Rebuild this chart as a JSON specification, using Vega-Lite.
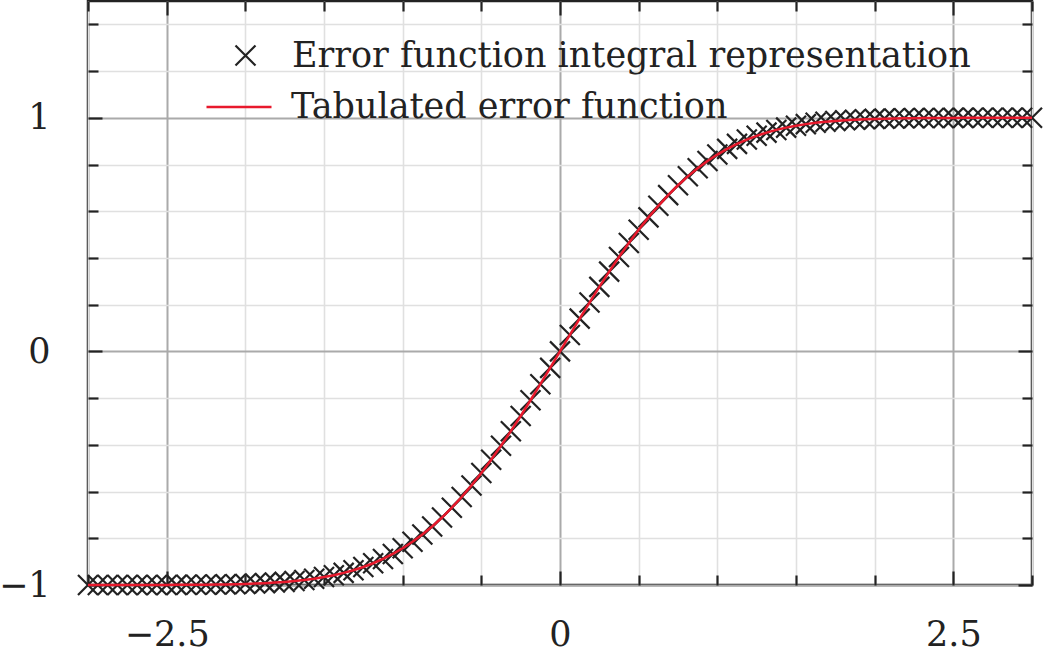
{
  "$schema": "https://vega.github.io/schema/vega-lite/v6.json",
  "width": 944,
  "height": 584,
  "autosize": {"type": "none"},
  "padding": {"left": 88, "top": 1, "right": 11, "bottom": 70},
  "background": "white",
  "config": {"view": {"stroke": "#222222", "strokeWidth": 2.5}, "font": "DejaVu Serif"},
  "data": {"values": [
    {"x": -3, "y": -0.99998}, {"x": -2.9375, "y": -0.99997}, {"x": -2.875, "y": -0.99995}, {"x": -2.8125, "y": -0.99993},
    {"x": -2.75, "y": -0.9999}, {"x": -2.6875, "y": -0.99986}, {"x": -2.625, "y": -0.9998}, {"x": -2.5625, "y": -0.99971},
    {"x": -2.5, "y": -0.99959}, {"x": -2.4375, "y": -0.99943}, {"x": -2.375, "y": -0.99922}, {"x": -2.3125, "y": -0.99893},
    {"x": -2.25, "y": -0.99854}, {"x": -2.1875, "y": -0.99802}, {"x": -2.125, "y": -0.99735}, {"x": -2.0625, "y": -0.99646},
    {"x": -2, "y": -0.99532}, {"x": -1.9375, "y": -0.99386}, {"x": -1.875, "y": -0.99199}, {"x": -1.8125, "y": -0.98963},
    {"x": -1.75, "y": -0.98667}, {"x": -1.6875, "y": -0.98299}, {"x": -1.625, "y": -0.97844}, {"x": -1.5625, "y": -0.97288},
    {"x": -1.5, "y": -0.96611}, {"x": -1.4375, "y": -0.95795}, {"x": -1.375, "y": -0.94817}, {"x": -1.3125, "y": -0.93657},
    {"x": -1.25, "y": -0.9229}, {"x": -1.1875, "y": -0.90692}, {"x": -1.125, "y": -0.88839}, {"x": -1.0625, "y": -0.86706},
    {"x": -1, "y": -0.8427}, {"x": -0.9375, "y": -0.81511}, {"x": -0.875, "y": -0.78408}, {"x": -0.8125, "y": -0.74947},
    {"x": -0.75, "y": -0.71116}, {"x": -0.6875, "y": -0.66909}, {"x": -0.625, "y": -0.62324}, {"x": -0.5625, "y": -0.57367},
    {"x": -0.5, "y": -0.5205}, {"x": -0.4375, "y": -0.4639}, {"x": -0.375, "y": -0.40412}, {"x": -0.3125, "y": -0.34147},
    {"x": -0.25, "y": -0.27633}, {"x": -0.1875, "y": -0.20912}, {"x": -0.125, "y": -0.14032}, {"x": -0.0625, "y": -0.07043},
    {"x": 0, "y": 0},
    {"x": 0.0625, "y": 0.07043}, {"x": 0.125, "y": 0.14032}, {"x": 0.1875, "y": 0.20912}, {"x": 0.25, "y": 0.27633},
    {"x": 0.3125, "y": 0.34147}, {"x": 0.375, "y": 0.40412}, {"x": 0.4375, "y": 0.4639}, {"x": 0.5, "y": 0.5205},
    {"x": 0.5625, "y": 0.57367}, {"x": 0.625, "y": 0.62324}, {"x": 0.6875, "y": 0.66909}, {"x": 0.75, "y": 0.71116},
    {"x": 0.8125, "y": 0.74947}, {"x": 0.875, "y": 0.78408}, {"x": 0.9375, "y": 0.81511}, {"x": 1, "y": 0.8427},
    {"x": 1.0625, "y": 0.86706}, {"x": 1.125, "y": 0.88839}, {"x": 1.1875, "y": 0.90692}, {"x": 1.25, "y": 0.9229},
    {"x": 1.3125, "y": 0.93657}, {"x": 1.375, "y": 0.94817}, {"x": 1.4375, "y": 0.95795}, {"x": 1.5, "y": 0.96611},
    {"x": 1.5625, "y": 0.97288}, {"x": 1.625, "y": 0.97844}, {"x": 1.6875, "y": 0.98299}, {"x": 1.75, "y": 0.98667},
    {"x": 1.8125, "y": 0.98963}, {"x": 1.875, "y": 0.99199}, {"x": 1.9375, "y": 0.99386}, {"x": 2, "y": 0.99532},
    {"x": 2.0625, "y": 0.99646}, {"x": 2.125, "y": 0.99735}, {"x": 2.1875, "y": 0.99802}, {"x": 2.25, "y": 0.99854},
    {"x": 2.3125, "y": 0.99893}, {"x": 2.375, "y": 0.99922}, {"x": 2.4375, "y": 0.99943}, {"x": 2.5, "y": 0.99959},
    {"x": 2.5625, "y": 0.99971}, {"x": 2.625, "y": 0.9998}, {"x": 2.6875, "y": 0.99986}, {"x": 2.75, "y": 0.9999},
    {"x": 2.8125, "y": 0.99993}, {"x": 2.875, "y": 0.99995}, {"x": 2.9375, "y": 0.99997}, {"x": 3, "y": 0.99998}
  ]},
  "layer": [
    {
      "mark": {"type": "point", "filled": false, "stroke": "#222222", "strokeWidth": 2.2, "size": 400, "opacity": 1},
      "encoding": {
        "x": {
          "field": "x", "type": "quantitative",
          "scale": {"domain": [-3, 3], "nice": false, "zero": false},
          "axis": {
            "orient": "bottom", "title": null, "domain": false,
            "values": [-3, -2.5, -2, -1.5, -1, -0.5, 0, 0.5, 1, 1.5, 2, 2.5, 3],
            "format": "~g",
            "grid": true,
            "gridColor": {"condition": {"test": "datum.value % 2.5 === 0", "value": "#aaaaaa"}, "value": "#e0e0e0"},
            "gridWidth": {"condition": {"test": "datum.value % 2.5 === 0", "value": 2}, "value": 1.6},
            "tickColor": "#222222", "tickWidth": 2.2,
            "tickSize": {"condition": {"test": "datum.value % 2.5 === 0", "value": -14}, "value": -10},
            "labelExpr": "datum.value % 2.5 === 0 ? datum.label : ''",
            "labelFont": "DejaVu Serif", "labelFontSize": 35, "labelColor": "#222222",
            "labelPadding": 46, "labelOverlap": false, "labelFlush": false
          }
        },
        "y": {
          "field": "y", "type": "quantitative",
          "scale": {"domain": [-1, 1.5], "nice": false, "zero": false},
          "axis": {
            "orient": "left", "title": null, "domain": false,
            "values": [-1, -0.8, -0.6, -0.4, -0.2, 0, 0.2, 0.4, 0.6, 0.8, 1, 1.2, 1.4],
            "format": "~g",
            "grid": true,
            "gridColor": {"condition": {"test": "abs(datum.value - round(datum.value)) < 0.000001", "value": "#aaaaaa"}, "value": "#e0e0e0"},
            "gridWidth": {"condition": {"test": "abs(datum.value - round(datum.value)) < 0.000001", "value": 2}, "value": 1.6},
            "tickColor": "#222222", "tickWidth": 2.2,
            "tickSize": {"condition": {"test": "abs(datum.value - round(datum.value)) < 0.000001", "value": -14}, "value": -10},
            "labelExpr": "abs(datum.value - round(datum.value)) < 0.000001 ? datum.label : ''",
            "labelFont": "DejaVu Serif", "labelFontSize": 35, "labelColor": "#222222",
            "labelPadding": 52, "labelOverlap": false, "labelFlush": false
          }
        },
        "shape": {
          "datum": "Error function integral representation",
          "scale": {"range": ["M-1,-1L1,1M-1,1L1,-1"]},
          "legend": {
            "orient": "none", "legendX": 140, "legendY": 37, "title": null, "padding": 0,
            "symbolSize": 400, "symbolStrokeWidth": 2.2, "symbolStrokeColor": "#222222",
            "labelFont": "DejaVu Serif", "labelFontSize": 35, "labelColor": "#222222",
            "labelOffset": 29, "labelLimit": 2000
          }
        }
      }
    },
    {
      "mark": {"type": "line", "strokeWidth": 2.5},
      "encoding": {
        "x": {
          "field": "x", "type": "quantitative",
          "axis": {
            "orient": "top", "title": null, "domain": false, "grid": false, "labels": false,
            "values": [-3, -2.5, -2, -1.5, -1, -0.5, 0, 0.5, 1, 1.5, 2, 2.5, 3],
            "tickColor": "#222222", "tickWidth": 2.2,
            "tickSize": {"condition": {"test": "datum.value % 2.5 === 0", "value": -14}, "value": -10}
          }
        },
        "y": {
          "field": "y", "type": "quantitative",
          "axis": {
            "orient": "right", "title": null, "domain": false, "grid": false, "labels": false,
            "values": [-1, -0.8, -0.6, -0.4, -0.2, 0, 0.2, 0.4, 0.6, 0.8, 1, 1.2, 1.4],
            "tickColor": "#222222", "tickWidth": 2.2,
            "tickSize": {"condition": {"test": "abs(datum.value - round(datum.value)) < 0.000001", "value": -14}, "value": -10}
          }
        },
        "color": {
          "datum": "Tabulated error function",
          "scale": {"range": ["#e8192c"]},
          "legend": {
            "orient": "none", "legendX": 117, "legendY": 72, "title": null, "padding": 0,
            "symbolType": "stroke", "symbolSize": 4225, "symbolStrokeWidth": 2.5,
            "labelFont": "DejaVu Serif", "labelFontSize": 35, "labelColor": "#222222",
            "labelOffset": 18, "labelLimit": 2000
          }
        }
      }
    }
  ],
  "resolve": {"axis": {"x": "independent", "y": "independent"}}
}
